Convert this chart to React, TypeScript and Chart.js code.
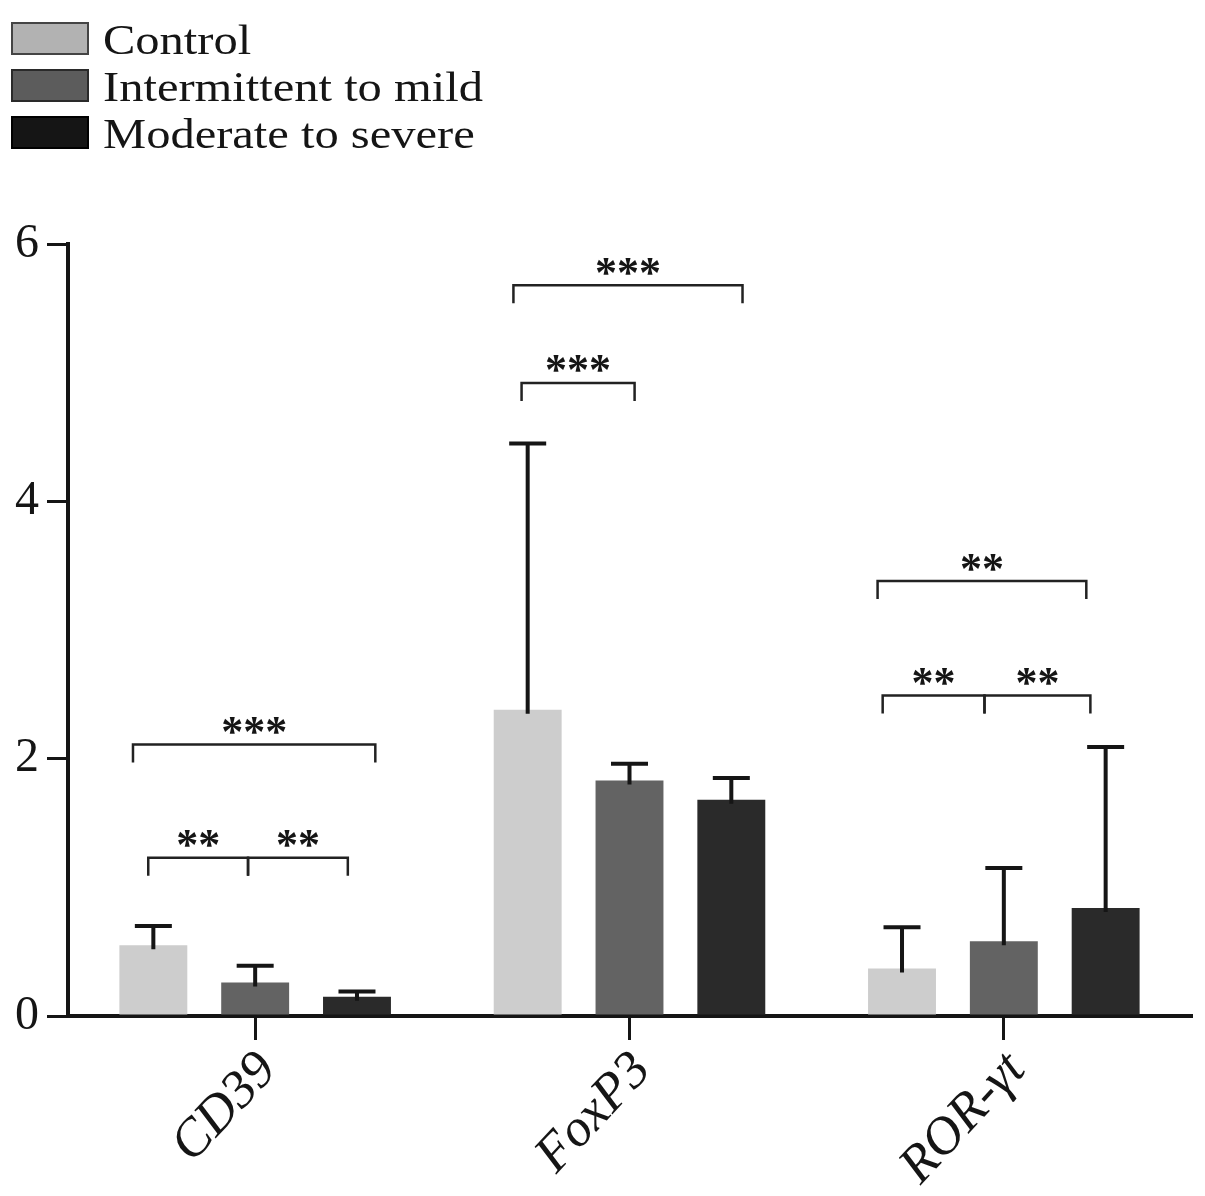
import { useEffect, useRef } from 'react';
import { Chart, registerables } from 'chart.js';

Chart.register(...registerables);

const categories = ['CD39', 'FoxP3', 'ROR-γt'];
const groupNames = ['Control', 'Intermittent to mild', 'Moderate to severe'];

const controlMean = [0.55, 2.38, 0.37];
const controlSd = [0.15, 2.07, 0.32];
const mildMean = [0.26, 1.83, 0.58];
const mildSd = [0.13, 0.13, 0.57];
const severeMean = [0.15, 1.68, 0.84];
const severeSd = [0.04, 0.17, 1.25];

const yTicks = [0, 2, 4, 6];

// significance brackets: category, start/end in bar slots from the category centre, height, label
const bracketGroup = [0, 0, 0, 1, 1, 2, 2, 2];
const bracketFrom = [-1.2, -1.05, -0.07, -1.14, -1.06, -1.24, -1.19, -0.19];
const bracketTo = [1.18, -0.07, 0.91, 1.11, 0.05, 0.81, -0.19, 0.85];
const bracketLevel = [2.11, 1.23, 1.23, 5.68, 4.92, 3.38, 2.49, 2.49];
const bracketLabel = ['***', '**', '**', '***', '***', '**', '**', '**'];

const barColors = ['#cdcdcd', '#636363', '#2a2a2a'];
const legendFill = ['#b2b2b2', '#5c5c5c', '#151515'];
const legendBorder = ['#444', '#2a2a2a', '#000'];

const INK = '#151515';

const errorBars = {
  id: 'errorBars',
  afterDatasetsDraw(chart: Chart) {
    const ctx = chart.ctx;
    const y = chart.scales.y;
    const sds = [controlSd, mildSd, severeSd];
    const means = [controlMean, mildMean, severeMean];
    ctx.save();
    ctx.strokeStyle = INK;
    ctx.lineWidth = 4;
    ctx.lineCap = 'butt';
    sds.forEach((sd, i) => {
      const meta = chart.getDatasetMeta(i);
      meta.data.forEach((el: any, j: number) => {
        const top = y.getPixelForValue(means[i][j] + sd[j]);
        ctx.beginPath();
        ctx.moveTo(el.x, el.y + 4);
        ctx.lineTo(el.x, top);
        ctx.moveTo(el.x - 18.5, top);
        ctx.lineTo(el.x + 18.5, top);
        ctx.stroke();
      });
    });
    ctx.restore();
  },
};

const brackets = {
  id: 'brackets',
  afterDraw(chart: Chart) {
    const ctx = chart.ctx;
    const x = chart.scales.x;
    const y = chart.scales.y;
    const m0 = chart.getDatasetMeta(0);
    const m1 = chart.getDatasetMeta(1);
    ctx.save();
    ctx.strokeStyle = '#222';
    ctx.lineWidth = 2.5;
    ctx.fillStyle = INK;
    ctx.font = 'bold 44px "Liberation Serif"';
    ctx.textAlign = 'center';
    ctx.textBaseline = 'alphabetic';
    bracketGroup.forEach((g, k) => {
      const centre = x.getPixelForValue(g);
      const slot = (m1.data[g] as any).x - (m0.data[g] as any).x;
      const x1 = centre + bracketFrom[k] * slot;
      const x2 = centre + bracketTo[k] * slot;
      const yy = y.getPixelForValue(bracketLevel[k]);
      ctx.beginPath();
      ctx.moveTo(x1, yy + 18);
      ctx.lineTo(x1, yy);
      ctx.lineTo(x2, yy);
      ctx.lineTo(x2, yy + 18);
      ctx.stroke();
      const m = ctx.measureText(bracketLabel[k]);
      const mid = (m.actualBoundingBoxAscent - m.actualBoundingBoxDescent) / 2;
      ctx.fillText(bracketLabel[k], (x1 + x2) / 2, yy - 19 + mid);
    });
    ctx.restore();
  },
};

const boxLegend = {
  id: 'boxLegend',
  afterDraw(chart: Chart) {
    const ctx = chart.ctx;
    ctx.save();
    ctx.font = '42px "Liberation Serif"';
    ctx.textAlign = 'left';
    ctx.textBaseline = 'alphabetic';
    groupNames.forEach((name, i) => {
      const top = 23 + i * 47;
      ctx.fillStyle = legendFill[i];
      ctx.fillRect(12, top, 76, 31);
      ctx.strokeStyle = legendBorder[i];
      ctx.lineWidth = 2;
      ctx.strokeRect(12, top, 76, 31);
      ctx.fillStyle = INK;
      ctx.save();
      ctx.translate(103, top + 31);
      ctx.scale(1.155, 1);
      ctx.fillText(name, 0, 0);
      ctx.restore();
    });
    ctx.restore();
  },
};

export default function App() {
  const canvasRef = useRef<HTMLCanvasElement>(null);
  const chartRef = useRef<Chart | null>(null);

  useEffect(() => {
    if (!canvasRef.current) return;
    if (chartRef.current) chartRef.current.destroy();

    chartRef.current = new Chart(canvasRef.current, {
      type: 'bar',
      data: {
        labels: categories,
        datasets: [
          { label: groupNames[0], data: controlMean, backgroundColor: barColors[0] },
          { label: groupNames[1], data: mildMean, backgroundColor: barColors[1] },
          { label: groupNames[2], data: severeMean, backgroundColor: barColors[2] },
        ],
      },
      options: {
        responsive: false,
        animation: false,
        devicePixelRatio: 1,
        categoryPercentage: 0.816,
        barPercentage: 0.667,
        layout: { padding: { top: 244, right: 14, left: 0, bottom: 0 } },
        plugins: {
          legend: { display: false },
          tooltip: { enabled: false },
        },
        scales: {
          x: {
            ticks: {
              color: INK,
              font: { family: 'Liberation Serif', size: 53, style: 'italic' },
              minRotation: 47,
              maxRotation: 47,
              padding: 0,
              labelOffset: 13,
            },
            grid: {
              offset: false,
              drawOnChartArea: false,
              drawTicks: true,
              tickLength: 24,
              color: INK,
              lineWidth: 3,
            },
            border: { display: true, color: INK, width: 4 },
            afterFit: (axis: any) => {
              axis.height = 180;
            },
          },
          y: {
            min: 0,
            max: 6,
            afterBuildTicks: (axis: any) => {
              axis.ticks = yTicks.map((v) => ({ value: v }));
            },
            ticks: {
              color: INK,
              font: { family: 'Liberation Serif', size: 48 },
              padding: 8,
            },
            grid: {
              drawOnChartArea: false,
              drawTicks: true,
              tickLength: 21,
              color: INK,
              lineWidth: 3,
            },
            border: { display: true, color: INK, width: 4 },
            afterFit: (axis: any) => {
              axis.width = 68;
            },
          },
        },
      },
      plugins: [errorBars, brackets, boxLegend],
    });

    return () => {
      if (chartRef.current) {
        chartRef.current.destroy();
        chartRef.current = null;
      }
    };
  }, []);

  return (
    <div style={{ position: 'absolute', left: 0, top: 0, width: 1205, height: 1196, background: '#fff' }}>
      <canvas ref={canvasRef} width={1205} height={1196} style={{ display: 'block' }} />
    </div>
  );
}
